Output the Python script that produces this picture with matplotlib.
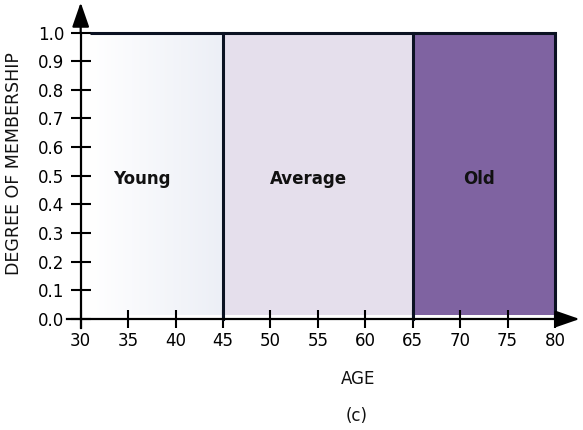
import numpy as np
import matplotlib
matplotlib.use("Agg")
import matplotlib.pyplot as plt
from matplotlib.colors import LinearSegmentedColormap

# Age bands and their membership degree
categories = ["Young", "Average", "Old"]
band_start = [31, 45, 65]
band_end = [45, 65, 80]
membership = [1.0, 1.0, 1.0]

x_ticks = [30, 35, 40, 45, 50, 55, 60, 65, 70, 75, 80]
y_ticks = [0.0, 0.1, 0.2, 0.3, 0.4, 0.5, 0.6, 0.7, 0.8, 0.9, 1.0]
y_tick_labels = ["%.1f" % v for v in y_ticks]

edge_color = "#0b1222"
avg_color = "#e5dfec"
old_color = "#7f63a1"
young_cmap = LinearSegmentedColormap.from_list("young", ["#ffffff", "#eceff6"])

fig = plt.figure(figsize=(5.83, 4.30), dpi=100)
ax = fig.add_axes([0.1384, 0.2581, 0.8135, 0.6663])
ax.set_xlim(30, 80)
ax.set_ylim(0, 1.0)

base = 0.013
# Young band: soft left-to-right gradient
grad = np.linspace(0, 1, 256).reshape(1, -1)
ax.imshow(grad, cmap=young_cmap, aspect="auto",
          extent=[band_start[0], band_end[0], base, membership[0]],
          origin="lower", zorder=1)
# Average and Old bands: flat fills
ax.fill_between([band_start[1], band_end[1]], base, membership[1],
                color=avg_color, lw=0, zorder=1)
ax.fill_between([band_start[2], band_end[2]], base, membership[2],
                color=old_color, lw=0, zorder=1)

# Top edges and right edges of each band
for s, e, m in zip(band_start, band_end, membership):
    ax.plot([s, e], [m, m], color=edge_color, lw=2.2,
            solid_capstyle="butt", zorder=3, clip_on=False)
    ax.plot([e, e], [0, m], color=edge_color, lw=2.2,
            solid_capstyle="projecting", zorder=3, clip_on=False)

# Band names
label_x = [36.5, 54.0, 72.0]
for name, lx in zip(categories, label_x):
    ax.text(lx, 0.49, name, ha="center", va="center",
            fontsize=12, fontweight="bold", color="#111111", zorder=4)

# Axes drawn as arrows
for sp in ax.spines.values():
    sp.set_visible(False)
ax.plot([30, 30], [-0.03, 1.0], color="black", lw=1.6, zorder=5, clip_on=False)
ax.plot([28.6, 80], [0, 0], color="black", lw=1.6, zorder=5, clip_on=False)
arrow_style = dict(arrowstyle="-|>,head_length=0.75,head_width=0.26",
                   mutation_scale=20, color="black", lw=1.6,
                   shrinkA=0, shrinkB=0)
ax.annotate("", xy=(30, 1.105), xytext=(30, 1.0), arrowprops=arrow_style,
            annotation_clip=False, zorder=6)
ax.annotate("", xy=(82.6, 0), xytext=(80, 0), arrowprops=arrow_style,
            annotation_clip=False, zorder=6)

ax.set_xticks(x_ticks)
ax.set_xticklabels([str(v) for v in x_ticks])
ax.set_yticks(y_ticks)
ax.set_yticklabels(y_tick_labels)
ax.tick_params(axis="y", direction="inout", length=14, width=1.5,
               labelsize=12, pad=5, colors="black")
ax.tick_params(axis="x", direction="inout", length=13, width=1.5,
               labelsize=12, pad=3, colors="black")
for t in ax.get_xticklines() + ax.get_yticklines():
    t.set_zorder(6)
    t.set_clip_on(False)

fig.text(14 / 583, 1 - 164 / 430, "DEGREE OF MEMBERSHIP", rotation=90,
         ha="center", va="center", fontsize=12.5, color="#111111")
fig.text(358 / 583, 1 - 379 / 430, "AGE", ha="center", va="center",
         fontsize=12, color="#111111")
fig.text(357 / 583, 1 - 416 / 430, "(c)", ha="center", va="center",
         fontsize=12, color="#111111")

fig.savefig("out.png", dpi=100, facecolor="white")
